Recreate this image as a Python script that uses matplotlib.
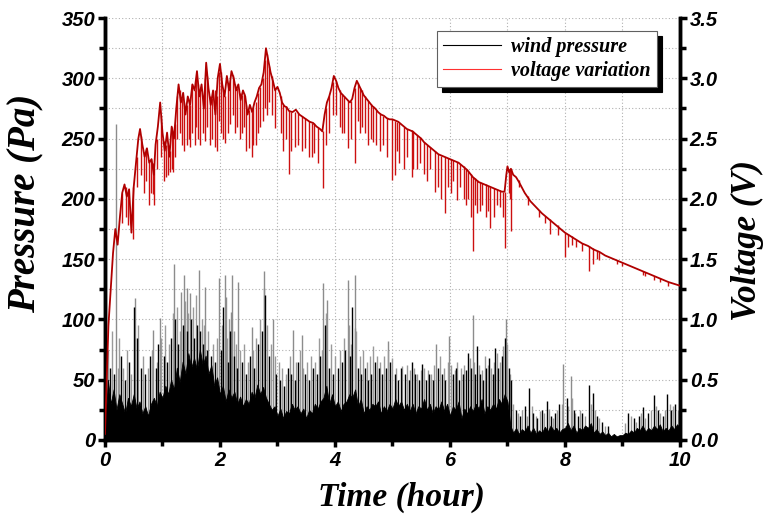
import numpy as np
import matplotlib
matplotlib.use("Agg")
import matplotlib.pyplot as plt
from matplotlib.ticker import MultipleLocator, FormatStrFormatter
from matplotlib.font_manager import FontProperties

# ---------------- data ----------------
# dense black region of the wind pressure signal (upper edge, Pa), every 0.05 h
base_t = [i / 20 for i in range(201)]
base_p = [5, 50, 30, 42, 25, 38, 30, 22, 35, 28, 38, 26, 32, 22, 28, 20, 30, 35, 28, 40,
          35, 45, 38, 50, 42, 60, 48, 65, 55, 72, 60, 68, 58, 75, 62, 70, 55, 62, 45, 52,
          38, 45, 32, 42, 35, 40, 30, 36, 28, 34, 30, 40, 35, 46, 38, 44, 35, 30, 25, 28,
          20, 26, 18, 24, 22, 30, 25, 28, 22, 26, 18, 25, 22, 30, 26, 32, 35, 45, 30, 38,
          28, 32, 24, 30, 32, 38, 35, 42, 28, 34, 22, 28, 25, 30, 28, 32, 22, 28, 24, 30,
          26, 34, 28, 32, 25, 30, 24, 30, 22, 28, 26, 34, 25, 30, 22, 28, 25, 32, 24, 30,
          20, 28, 25, 32, 18, 26, 22, 28, 24, 30, 26, 34, 22, 28, 25, 30, 26, 34, 30, 38,
          32, 12, 6, 10, 5, 9, 7, 12, 6, 10, 5, 8, 6, 11, 7, 12, 8, 10, 6, 9,
          10, 14, 8, 12, 6, 10, 8, 12, 10, 14, 6, 9, 5, 7, 4, 6, 3, 5, 3, 4,
          4, 6, 5, 8, 6, 10, 8, 12, 7, 10, 8, 12, 9, 13, 7, 10, 8, 12, 9, 13, 10]

# tall isolated pressure spikes (Pa)
tall_t = [0.19, 0.52, 0.84, 0.95, 1.20, 1.33, 1.38, 1.43, 1.48, 1.63, 1.74, 1.98,
          2.09, 2.10, 2.20, 2.21, 2.32, 2.55, 2.76, 2.77, 2.93, 3.27, 3.43, 3.80,
          3.87, 4.22, 4.34, 4.35, 4.92, 5.76, 5.99, 6.40, 6.97, 7.97, 8.10]
tall_p = [262, 118, 91, 101, 146, 123, 137, 126, 122, 141, 127, 134,
          137, 119, 106, 137, 131, 94, 140, 126, 100, 91, 87, 130,
          116, 133, 137, 93, 82, 80, 86, 104, 100, 63, 53]

# grey (thin) pressure spikes (Pa)
grey_t = [0.05, 0.12, 0.22, 0.25, 0.32, 0.38, 0.45, 0.58, 0.66, 0.74, 0.82, 0.90,
          0.98, 1.05, 1.11, 1.18, 1.25, 1.30, 1.40, 1.45, 1.53, 1.58, 1.68, 1.72,
          1.80, 1.88, 1.95, 2.04, 2.12, 2.16, 2.24, 2.28, 2.35, 2.42, 2.48, 2.58,
          2.63, 2.70, 2.82, 2.88, 2.95, 3.02, 3.08, 3.15, 3.22, 3.33, 3.40, 3.45,
          3.52, 3.58, 3.65, 3.72, 3.77, 3.85, 3.93, 4.00, 4.08, 4.15, 4.24, 4.28,
          4.37, 4.43, 4.49, 4.55, 4.61, 4.67, 4.73, 4.79, 4.85, 4.92, 4.99, 5.07,
          5.17, 5.25, 5.31, 5.37, 5.43, 5.49, 5.55, 5.61, 5.67, 5.73, 5.83, 5.89,
          5.96, 6.02, 6.08, 6.13, 6.19, 6.25, 6.34, 6.42, 6.50, 6.55, 6.61, 6.66,
          6.71, 6.77, 6.82, 6.87, 6.92, 7.00, 7.05, 7.10, 7.18, 7.26, 7.34, 7.42,
          7.49, 7.56, 7.64, 7.72, 7.79, 7.86, 7.94, 8.06, 8.12, 8.18, 8.26, 8.34,
          8.45, 8.52, 8.60, 8.70, 9.05, 9.15, 9.24, 9.32, 9.40, 9.50, 9.58, 9.66,
          9.74, 9.82, 9.88, 9.96]
grey_p = [75, 90, 60, 85, 60, 75, 55, 95, 70, 60, 75, 65,
          85, 95, 80, 105, 110, 90, 115, 105, 110, 120, 100, 95,
          90, 80, 85, 95, 85, 100, 90, 80, 75, 80, 65, 75,
          85, 100, 95, 80, 70, 65, 60, 55, 70, 65, 75, 60,
          65, 70, 65, 85, 75, 105, 80, 70, 75, 85, 95, 80,
          90, 70, 75, 65, 70, 78, 70, 65, 70, 75, 68, 60,
          61, 62, 58, 60, 55, 58, 60, 58, 55, 62, 70, 60,
          65, 62, 58, 65, 60, 62, 68, 65, 62, 58, 70, 62,
          60, 65, 72, 65, 78, 80, 55, 30, 22, 25, 20, 28,
          20, 24, 22, 26, 18, 25, 30, 28, 35, 22, 25, 20,
          30, 25, 18, 12, 14, 20, 15, 22, 18, 25, 28, 22,
          25, 30, 28, 25]

# black pressure spikes (Pa)
mid_t = [0.08, 0.15, 0.28, 0.35, 0.42, 0.50, 0.55, 0.62, 0.70, 0.78, 0.88, 0.93,
         1.02, 1.08, 1.15, 1.22, 1.27, 1.35, 1.42, 1.50, 1.55, 1.60, 1.66, 1.70,
         1.78, 1.85, 1.92, 2.02, 2.06, 2.14, 2.18, 2.25, 2.30, 2.38, 2.45, 2.52,
         2.60, 2.66, 2.73, 2.79, 2.86, 2.97, 3.05, 3.12, 3.18, 3.24, 3.30, 3.36,
         3.48, 3.55, 3.62, 3.68, 3.74, 3.83, 3.90, 3.96, 4.05, 4.12, 4.18, 4.26,
         4.30, 4.40, 4.46, 4.52, 4.58, 4.63, 4.70, 4.76, 4.82, 4.88, 4.96, 5.04,
         5.10, 5.14, 5.22, 5.28, 5.34, 5.40, 5.46, 5.52, 5.58, 5.64, 5.70, 5.80,
         5.86, 5.92, 6.05, 6.10, 6.16, 6.22, 6.28, 6.32, 6.36, 6.44, 6.47, 6.52,
         6.58, 6.63, 6.68, 6.74, 6.79, 6.84, 6.90, 6.95, 7.02, 7.07, 7.15, 7.22,
         7.30, 7.38, 7.45, 7.52, 7.60, 7.69, 7.75, 7.82, 7.90, 8.03, 8.15, 8.22,
         8.30, 8.41, 8.49, 8.56, 8.65, 8.75, 9.10, 9.20, 9.28, 9.36, 9.45, 9.54,
         9.62, 9.70, 9.78, 9.85, 9.92]
mid_p = [60, 55, 70, 50, 65, 110, 85, 60, 55, 70, 60, 80,
         70, 65, 85, 100, 80, 95, 90, 100, 85, 95, 90, 80,
         75, 70, 65, 75, 110, 65, 90, 70, 60, 65, 55, 70,
         60, 80, 90, 120, 70, 55, 50, 45, 60, 55, 50, 65,
         55, 50, 60, 55, 70, 95, 60, 55, 60, 65, 75, 70,
         110, 60, 55, 60, 50, 55, 65, 60, 55, 60, 65, 55,
         50, 60, 55, 50, 65, 55, 50, 63, 50, 55, 50, 60,
         55, 50, 55, 60, 50, 55, 58, 72, 60, 55, 78, 55,
         50, 60, 68, 55, 76, 60, 70, 85, 60, 50, 25, 20,
         28, 43, 22, 18, 25, 32, 20, 22, 30, 35, 25, 20,
         22, 46, 39, 20, 15, 12, 22, 18, 20, 27, 22, 37,
         25, 20, 38, 25, 30]

# voltage variation (V)
volt_t = [0.00, 0.03, 0.06, 0.10, 0.14, 0.18, 0.22, 0.26, 0.30, 0.34, 0.38, 0.42,
          0.46, 0.50, 0.54, 0.58, 0.61, 0.65, 0.69, 0.73, 0.77, 0.81, 0.85, 0.88,
          0.92, 0.96, 1.00, 1.04, 1.08, 1.12, 1.16, 1.20, 1.24, 1.28, 1.32, 1.36,
          1.40, 1.44, 1.48, 1.52, 1.56, 1.60, 1.64, 1.68, 1.72, 1.76, 1.80, 1.84,
          1.88, 1.92, 1.96, 2.00, 2.04, 2.08, 2.12, 2.16, 2.20, 2.24, 2.28, 2.32,
          2.36, 2.40, 2.44, 2.48, 2.52, 2.56, 2.60, 2.64, 2.68, 2.72, 2.76, 2.80,
          2.84, 2.88, 2.92, 2.96, 3.00, 3.04, 3.08, 3.12, 3.16, 3.20, 3.26, 3.32,
          3.38, 3.44, 3.50, 3.56, 3.62, 3.68, 3.74, 3.78, 3.82, 3.86, 3.90, 3.94,
          3.98, 4.02, 4.06, 4.10, 4.14, 4.18, 4.22, 4.26, 4.30, 4.34, 4.38, 4.42,
          4.46, 4.50, 4.55, 4.60, 4.65, 4.70, 4.75, 4.80, 4.85, 4.90, 4.95, 5.00,
          5.05, 5.10, 5.15, 5.20, 5.25, 5.30, 5.35, 5.40, 5.45, 5.50, 5.55, 5.60,
          5.65, 5.70, 5.75, 5.80, 5.85, 5.90, 5.95, 6.00, 6.05, 6.10, 6.15, 6.20,
          6.25, 6.30, 6.35, 6.40, 6.45, 6.50, 6.55, 6.60, 6.65, 6.70, 6.75, 6.80,
          6.85, 6.90, 6.95, 6.98, 7.00, 7.03, 7.06, 7.10, 7.15, 7.20, 7.30, 7.40,
          7.50, 7.60, 7.70, 7.80, 7.90, 8.00, 8.10, 8.20, 8.30, 8.40, 8.50, 8.60,
          8.70, 8.80, 8.90, 9.00, 9.20, 9.40, 9.60, 9.80, 10.00]
volt_v = [0.05, 0.50, 0.95, 1.25, 1.55, 1.75, 1.62, 1.85, 2.05, 2.12, 2.02, 2.08,
          1.72, 2.10, 2.30, 2.50, 2.58, 2.45, 2.35, 2.42, 2.30, 2.33, 2.20, 2.45,
          2.60, 2.80, 2.55, 2.40, 2.55, 2.35, 2.60, 2.50, 2.75, 2.95, 2.80, 2.88,
          2.70, 2.85, 2.78, 2.95, 2.90, 3.06, 2.85, 2.95, 2.75, 3.13, 2.92, 2.78,
          2.90, 2.70, 3.00, 3.12, 2.95, 2.85, 3.02, 2.90, 3.06, 3.00, 2.90, 2.95,
          2.82, 2.90, 2.85, 2.70, 2.78, 2.72, 2.80, 2.85, 2.92, 2.95, 3.05, 3.25,
          3.15, 3.05, 2.98, 2.90, 2.93, 2.88, 2.80, 2.77, 2.76, 2.73, 2.72, 2.74,
          2.70, 2.68, 2.66, 2.64, 2.63, 2.60, 2.58, 2.56, 2.70, 2.80, 2.85, 2.92,
          3.02, 2.98, 2.92, 2.88, 2.86, 2.84, 2.82, 2.80, 2.83, 2.92, 2.98, 2.94,
          2.90, 2.86, 2.83, 2.80, 2.77, 2.75, 2.72, 2.70, 2.69, 2.67, 2.66, 2.66,
          2.65, 2.64, 2.62, 2.60, 2.58, 2.57, 2.56, 2.54, 2.52, 2.50, 2.47, 2.45,
          2.43, 2.41, 2.39, 2.37, 2.36, 2.35, 2.34, 2.33, 2.32, 2.31, 2.30, 2.28,
          2.26, 2.24, 2.21, 2.18, 2.16, 2.14, 2.13, 2.12, 2.11, 2.10, 2.09, 2.08,
          2.07, 2.06, 2.06, 2.20, 2.27, 2.22, 2.25, 2.20, 2.18, 2.14, 2.05, 1.98,
          1.93, 1.88, 1.84, 1.80, 1.76, 1.72, 1.69, 1.66, 1.63, 1.61, 1.58, 1.56,
          1.53, 1.51, 1.49, 1.47, 1.43, 1.39, 1.35, 1.31, 1.28]

# downward dips of the voltage trace: time, top (V), bottom (V)
dip_t = [0.30, 0.36, 0.40, 0.49, 0.55, 0.63, 0.68, 0.72, 0.76, 0.80, 0.84, 0.86,
         0.90, 0.98, 1.02, 1.06, 1.10, 1.13, 1.16, 1.19, 1.22, 1.26, 1.30, 1.34,
         1.38, 1.42, 1.46, 1.48, 1.52, 1.56, 1.58, 1.62, 1.66, 1.70, 1.74, 1.78,
         1.82, 1.86, 1.91, 1.94, 1.98, 2.02, 2.06, 2.09, 2.14, 2.18, 2.22, 2.26,
         2.30, 2.34, 2.38, 2.42, 2.46, 2.50, 2.55, 2.58, 2.62, 2.66, 2.70, 2.74,
         2.78, 2.82, 2.86, 2.90, 2.96, 3.06, 3.10, 3.14, 3.20, 3.24, 3.30, 3.36,
         3.42, 3.48, 3.55, 3.60, 3.64, 3.70, 3.79, 3.84, 3.90, 3.96, 4.02, 4.08,
         4.12, 4.16, 4.23, 4.28, 4.35, 4.40, 4.44, 4.47, 4.52, 4.58, 4.62, 4.67,
         4.72, 4.78, 4.84, 4.90, 4.99, 5.04, 5.08, 5.12, 5.20, 5.26, 5.34, 5.36,
         5.42, 5.48, 5.55, 5.60, 5.66, 5.74, 5.80, 5.84, 5.91, 5.96, 6.02, 6.06,
         6.12, 6.18, 6.24, 6.28, 6.32, 6.36, 6.40, 6.44, 6.47, 6.52, 6.56, 6.62,
         6.66, 6.70, 6.76, 6.82, 6.87, 6.92, 6.95, 7.02, 7.05, 7.07, 7.20, 7.35,
         7.55, 7.65, 7.74, 7.88, 8.00, 8.05, 8.12, 8.20, 8.30, 8.42, 8.48, 8.55,
         8.60, 8.90, 9.00, 9.35, 9.40, 9.55, 9.65, 9.80]
dip_top = [2.05, 2.10, 2.05, 2.10, 2.35, 2.52, 2.38, 2.42, 2.32, 2.33, 2.30, 2.25,
           2.50, 2.70, 2.48, 2.45, 2.45, 2.40, 2.60, 2.55, 2.62, 2.85, 2.90, 2.84,
           2.80, 2.78, 2.82, 2.78, 2.95, 2.90, 3.00, 2.95, 2.90, 2.85, 3.00, 3.02,
           2.85, 2.84, 2.90, 2.85, 3.05, 3.05, 2.90, 2.85, 2.96, 2.98, 3.03, 2.95,
           2.92, 2.88, 2.86, 2.88, 2.78, 2.74, 2.72, 2.76, 2.80, 2.88, 2.93, 3.00,
           3.15, 3.20, 3.10, 3.02, 2.90, 2.85, 2.78, 2.77, 2.73, 2.72, 2.72, 2.71,
           2.69, 2.67, 2.65, 2.63, 2.63, 2.59, 2.56, 2.75, 2.85, 2.97, 2.98, 2.90,
           2.87, 2.85, 2.82, 2.81, 2.92, 2.96, 2.92, 2.90, 2.85, 2.81, 2.79, 2.77,
           2.74, 2.71, 2.69, 2.67, 2.66, 2.65, 2.64, 2.63, 2.60, 2.58, 2.57, 2.56,
           2.53, 2.51, 2.47, 2.45, 2.43, 2.40, 2.37, 2.36, 2.35, 2.34, 2.33, 2.32,
           2.31, 2.29, 2.27, 2.25, 2.23, 2.21, 2.18, 2.17, 2.16, 2.14, 2.13, 2.12,
           2.11, 2.10, 2.09, 2.08, 2.07, 2.06, 2.06, 2.25, 2.24, 2.25, 2.16, 2.02,
           1.91, 1.86, 1.83, 1.78, 1.72, 1.71, 1.69, 1.66, 1.63, 1.61, 1.59, 1.57,
           1.56, 1.49, 1.47, 1.40, 1.39, 1.36, 1.34, 1.31]
dip_bot = [1.80, 1.85, 1.78, 1.67, 2.10, 2.20, 2.05, 2.15, 1.95, 2.05, 2.04, 1.95,
           2.25, 2.35, 2.15, 2.18, 2.20, 2.22, 2.25, 2.22, 2.35, 2.50, 2.55, 2.45,
           2.40, 2.45, 2.50, 2.43, 2.55, 2.45, 2.60, 2.50, 2.45, 2.55, 2.48, 2.60,
           2.45, 2.50, 2.43, 2.40, 2.65, 2.55, 2.50, 2.46, 2.55, 2.62, 2.70, 2.55,
           2.60, 2.50, 2.55, 2.60, 2.40, 2.42, 2.35, 2.45, 2.45, 2.55, 2.60, 2.65,
           2.75, 2.70, 2.80, 2.70, 2.59, 2.55, 2.40, 2.50, 2.21, 2.40, 2.43, 2.45,
           2.40, 2.42, 2.35, 2.35, 2.38, 2.30, 2.09, 2.45, 2.55, 2.70, 2.70, 2.60,
           2.55, 2.55, 2.42, 2.50, 2.30, 2.65, 2.55, 2.60, 2.55, 2.45, 2.50, 2.47,
           2.45, 2.40, 2.45, 2.35, 2.16, 2.20, 2.40, 2.30, 2.25, 2.35, 2.18, 2.25,
           2.25, 2.30, 2.21, 2.15, 2.25, 2.06, 2.10, 2.00, 1.88, 2.10, 2.05, 2.15,
           1.99, 2.10, 2.00, 1.95, 2.00, 1.85, 1.57, 1.95, 1.88, 1.90, 1.95, 1.85,
           1.90, 1.76, 1.85, 1.95, 1.93, 1.85, 1.59, 2.05, 2.00, 1.73, 2.10, 1.95,
           1.85, 1.80, 1.71, 1.70, 1.52, 1.60, 1.62, 1.60, 1.57, 1.40, 1.46, 1.50,
           1.49, 1.46, 1.44, 1.37, 1.36, 1.33, 1.31, 1.28]

# ---------------- figure ----------------
plt.rcParams['font.family'] = ['Liberation Sans', 'DejaVu Sans']
fig = plt.figure(figsize=(7.64, 5.17), dpi=100)
ax = fig.add_axes([0.1374, 0.149, 0.7526, 0.816])
ax2 = ax.twinx()

# pressure
ax.vlines(tall_t, 0, tall_p, color='#8c8c8c', lw=1.0, zorder=2)
ax.vlines(grey_t, 0, grey_p, color='#9a9a9a', lw=1.0, zorder=2)
ax.fill_between(base_t, 0, base_p, color='black', lw=0.6, zorder=3)
ax.vlines(mid_t, 0, mid_p, color='black', lw=1.0, zorder=3)
ax.plot([], [], color='black', lw=0.8, label='wind pressure')

# voltage
ax2.vlines(dip_t, dip_bot, dip_top, color='#cc1010', lw=1.0, zorder=3)
ax2.plot(volt_t, volt_v, color='#b00000', lw=1.3, zorder=4)
ax2.plot([], [], color='#ff3030', lw=0.8, label='voltage variation')

ax.set_xlim(0, 10)
ax.set_ylim(0, 350)
ax2.set_ylim(0, 3.5)

ax.xaxis.set_major_locator(MultipleLocator(2))
ax.xaxis.set_minor_locator(MultipleLocator(1))
ax.yaxis.set_major_locator(MultipleLocator(50))
ax.yaxis.set_minor_locator(MultipleLocator(25))
ax2.yaxis.set_major_locator(MultipleLocator(0.5))
ax2.yaxis.set_minor_locator(MultipleLocator(0.25))
ax2.yaxis.set_major_formatter(FormatStrFormatter('%.1f'))

ax.grid(True, which='both', color='#b0b0b0', ls=(0, (1, 2)), lw=0.8)
ax.set_axisbelow(True)

for a in (ax, ax2):
    a.spines['top'].set_visible(False)
    for s in ('left', 'right', 'bottom'):
        a.spines[s].set_linewidth(2.5)
    a.tick_params(which='major', direction='out', length=5, width=2.5)
    a.tick_params(which='minor', direction='out', length=4, width=2.5)

tick_fp = FontProperties(family='Liberation Sans', weight='bold', style='italic', size=14.5)
for lab in ax.get_xticklabels() + ax.get_yticklabels() + ax2.get_yticklabels():
    lab.set_fontproperties(tick_fp)
ax.tick_params(axis='x', pad=3)
ax.tick_params(axis='y', pad=2)
ax2.tick_params(axis='y', pad=2)

ax.set_xlabel('Time (hour)', fontdict=dict(family='Liberation Serif', weight='bold',
                                            style='italic', size=24))
ax.set_ylabel('Pressure (Pa)', fontdict=dict(family='Liberation Serif', weight='bold',
                                              style='italic', size=28))
ax2.set_ylabel('Voltage (V)', fontdict=dict(family='Liberation Serif', weight='bold',
                                             style='italic', size=25))
ax.xaxis.set_label_coords(0.515, -0.098)
ax.yaxis.set_label_coords(-0.105, 0.56)
ax2.yaxis.set_label_coords(1.088, 0.474)

handles = ax.get_legend_handles_labels()[0] + ax2.get_legend_handles_labels()[0]
labels = ['wind pressure', 'voltage variation']
leg = ax2.legend(handles, labels, loc='upper right', bbox_to_anchor=(0.96, 0.97),
                 borderaxespad=0, fancybox=False, framealpha=1, edgecolor='#606060',
                 shadow={'color': 'black', 'alpha': 1, 'ox': 3.5, 'oy': -3.5},
                 handlelength=2.9, handletextpad=0.5, borderpad=0.3, labelspacing=0.2,
                 prop=FontProperties(family='Liberation Serif', style='italic',
                                     weight='bold', size=14.5))
leg.get_frame().set_linewidth(0.8)
leg.set_zorder(10)

fig.savefig('out.png', dpi=100)
